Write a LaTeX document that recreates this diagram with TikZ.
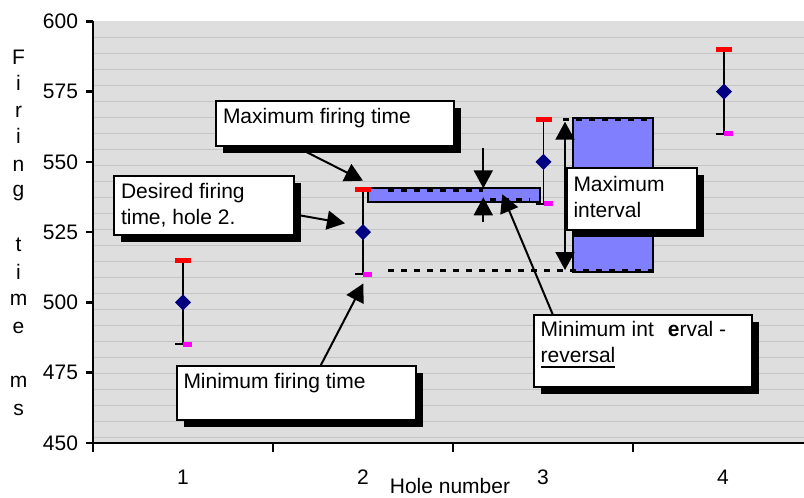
\documentclass[tikz,border=0pt]{standalone}
\usepackage{fontspec}
\setmainfont{Liberation Sans}
\usetikzlibrary{arrows.meta,shapes.geometric,calc,shadows}
\definecolor{navyd}{RGB}{0,0,128}
\definecolor{barblue}{RGB}{128,128,255}
\definecolor{plotbg}{RGB}{222,222,222}
\definecolor{gridc}{RGB}{196,196,196}
\definecolor{capred}{RGB}{255,0,0}
\definecolor{capmag}{RGB}{255,0,255}
\begin{document}
\begin{tikzpicture}[x=1pt,y=-1pt,
  every node/.style={font=\fontsize{21}{26}\selectfont, inner sep=0pt, outer sep=0pt},
  axisline/.style={line width=2.5pt, black},
  callbox/.style={rectangle, draw=black, line width=2pt, fill=white,
    drop shadow={shadow xshift=6.5pt, shadow yshift=-6.5pt, fill=black, opacity=1}},
  callarrow/.style={line width=2pt, -{Triangle[length=18pt,width=19pt]}},
  dblarrow/.style={line width=2pt, {Triangle[length=18pt,width=19pt]}-{Triangle[length=18pt,width=19pt]}},
  dashline/.style={line width=2.5pt, dash pattern=on 6pt off 7pt},
  barbox/.style={draw=black, line width=1.8pt, fill=barblue}
]
\useasboundingbox (0,0) rectangle (804,498);
% plot area
\fill[plotbg] (93,21.3) rectangle (804,442.8);
\foreach \k in {1,...,26} \draw[gridc, line width=1.2pt] (93,21.3+16*\k) -- (804,21.3+16*\k);
% axes
\draw[axisline] (93,21.3) -- (93,451.5);
\draw[axisline] (86,442.8) -- (804,442.8);
\foreach \i in {0,...,5} \draw[axisline] (86,21.3+70.25*\i) -- (93,21.3+70.25*\i);
\foreach \x in {273,453,633} \draw[axisline] (\x,442.8) -- (\x,451.5);
\foreach \v [count=\i from 0] in {600,575,...,450}
  \node[anchor=east] (yl\i) at (78,21.3+70.25*\i) {\v};
\foreach \c in {1,2,3,4}
  \node (xl\c) at (3+180*\c,477.5) {\c};
\node[anchor=base] (xtitle) at (450,493) {Hole number};
\foreach \l/\yy [count=\n] in {F/64,i/90,r/117,i/143,n/171,g/196,t/251,i/279,m/305,e/333,m/387,s/415}
  \node[anchor=base] (yt\n) at (18.5,\yy) {\l};
% bars
\draw[barbox] (368.3,188.3) rectangle (540,201.7);
\draw[barbox] (573.3,118.3) rectangle (652.7,271.7);
\draw[dashline] (388,190.5) -- (483,190.5);
\draw[dashline] (490,199.3) -- (530,199.3);
\draw[dashline] (388,270.5) -- (652,270.5);
\draw[dashline] (563,119.3) -- (652,119.3);
% error bars and points
\foreach \x/\lo/\md/\hi [count=\n] in {183/485/500/515, 363/510/525/540, 543.5/535/550/565, 724/560/575/590}{
  \pgfmathsetmacro\ylo{21.3+(600-\lo)*2.81}
  \pgfmathsetmacro\ymd{21.3+(600-\md)*2.81}
  \pgfmathsetmacro\yhi{21.3+(600-\hi)*2.81}
  \draw[line width=1.7pt] (\x,\ylo) -- (\x,\yhi);
  \fill[capred] (\x-8,\yhi-2.5) rectangle (\x+8,\yhi+2.5);
  \draw[line width=2pt] (\x-8,\ylo) -- (\x,\ylo);
  \fill[capmag] (\x,\ylo-2.5) rectangle (\x+9,\ylo+2.5);
  \node[diamond, fill=navyd, minimum width=16pt, minimum height=16pt] (h\n) at (\x,\ymd) {};
}
% callout boxes
\node[callbox, minimum width=238pt, minimum height=45pt] (boxMax) at (335,123.5) {};
\node[callbox, minimum width=180pt, minimum height=59pt] (boxDes) at (204,205.5) {};
\node[callbox, minimum width=239pt, minimum height=54pt] (boxMin) at (296.5,393) {};
\node[callbox, minimum width=130pt, minimum height=62pt] (boxInt) at (632,199) {};
\node[callbox, minimum width=218pt, minimum height=72pt] (boxRev) at (643,351) {};
\node[anchor=base west] (tMax) at (223,123.5) {Maximum firing time};
\node[anchor=base west] (tDes1) at (121,198) {Desired firing};
\node[anchor=base west] (tDes2) at (121,224) {time, hole 2.};
\node[anchor=base west] (tMin) at (183.5,388) {Minimum firing time};
\node[anchor=base west] (tInt1) at (573.5,191) {Maximum};
\node[anchor=base west] (tInt2) at (573.5,217.3) {interval};
\node[anchor=base west] (tRev1) at (540.7,336.7) {Minimum int\hspace{14pt}\textbf{e}rval -};
\node[anchor=base west] (tRev2) at (540.7,362.3) {reversal};
\draw[line width=1.6pt] ($(tRev2.base west)+(0,4.4)$) -- ($(tRev2.base east)+(0,4.4)$);
% arrows
\coordinate (pMax) at (363,180.7);
\coordinate (pDes) at (345,223.3);
\coordinate (pMin) at (363.3,283.5);
\coordinate (pRev) at (502.3,194.3);
\coordinate (aTop) at (483.3,148);
\coordinate (aTopTip) at (483.3,188.3);
\coordinate (aBot) at (483.3,222);
\coordinate (aBotTip) at (483.3,197.3);
\coordinate (iTop) at (565,121.7);
\coordinate (iBot) at (565,270);
\draw[callarrow] ($(boxMax.south west)!0.33!(boxMax.south east)$) -- (pMax);
\draw[callarrow] ($(boxDes.north east)!0.65!(boxDes.south east)$) -- (pDes);
\draw[callarrow] ($(boxMin.north west)!0.60!(boxMin.north east)$) -- (pMin);
\draw[callarrow] ($(boxRev.north west)!0.087!(boxRev.north east)$) -- (pRev);
\draw[callarrow] (aTop) -- (aTopTip);
\draw[callarrow] (aBot) -- (aBotTip);
\draw[dblarrow] (iTop) -- (iBot);
\end{tikzpicture}
\end{document}
